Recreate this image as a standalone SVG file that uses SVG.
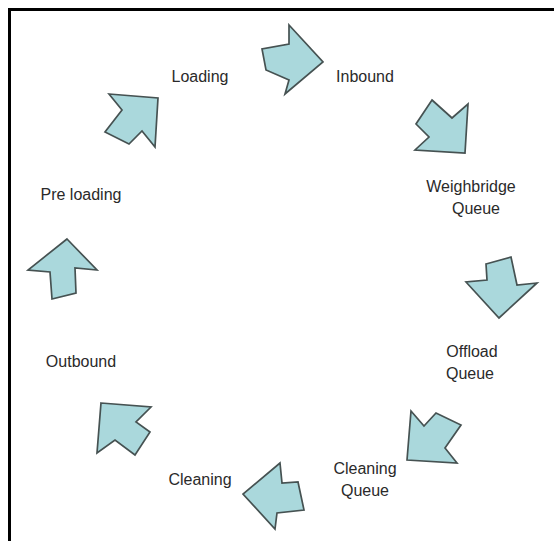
<svg xmlns="http://www.w3.org/2000/svg" width="554" height="541" viewBox="0 0 554 541">
<style>
.arr{fill:#aad8dc;stroke:#465252;stroke-width:1.7;stroke-linejoin:miter}
.lbl{font-family:"Liberation Sans",Arial,sans-serif;font-size:16px;fill:#2a2a2a;text-anchor:middle}
</style>
<rect x="0" y="0" width="554" height="541" fill="#fff"/>
<path d="M9.5 541 V9.5 H554" fill="none" stroke="#000" stroke-width="3"/>
<g id="connectors">
<polygon id="arrow-inbound" class="arr" points="289,25 323,62 285,94 289,80 266,70 262,49 289,44"/>
<polygon id="arrow-weighbridge" class="arr" points="432,100 452,118 468,104 465,153 415,150 429,137 416,124"/>
<polygon id="arrow-offload" class="arr" points="486,264 511,257 517,285 537,283 499,318 466,282 487,280"/>
<polygon id="arrow-cleaningqueue" class="arr" points="411,411 424,426 436,413 461,425 445,448 457,463 407,460"/>
<polygon id="arrow-cleaning" class="arr" points="280,463 282,483 298,482 304,510 277,513 275,529 243,494"/>
<polygon id="arrow-outbound" class="arr" points="101,403 151,407 136,422 150,432 135,455 115,440 97,453"/>
<polygon id="arrow-preloading" class="arr" points="67,239 97,270 75,268 76,293 52,299 50,272 28,270"/>
<polygon id="arrow-loading" class="arr" points="109,94 158,98 155,147 142,131 129,144 105,132 122,110"/>
</g>
<g id="node-loading"><text class="lbl" x="200" y="82">Loading</text></g>
<g id="node-inbound"><text class="lbl" x="365" y="82">Inbound</text></g>
<g id="node-weighbridge"><text class="lbl" x="471" y="192">Weighbridge</text><text class="lbl" x="476" y="214">Queue</text></g>
<g id="node-offload"><text class="lbl" x="472" y="357">Offload</text><text class="lbl" x="470" y="379">Queue</text></g>
<g id="node-cleaningqueue"><text class="lbl" x="365" y="474">Cleaning</text><text class="lbl" x="365" y="496">Queue</text></g>
<g id="node-cleaning"><text class="lbl" x="200" y="485">Cleaning</text></g>
<g id="node-outbound"><text class="lbl" x="81" y="367">Outbound</text></g>
<g id="node-preloading"><text class="lbl" x="81" y="200">Pre loading</text></g>
</svg>
